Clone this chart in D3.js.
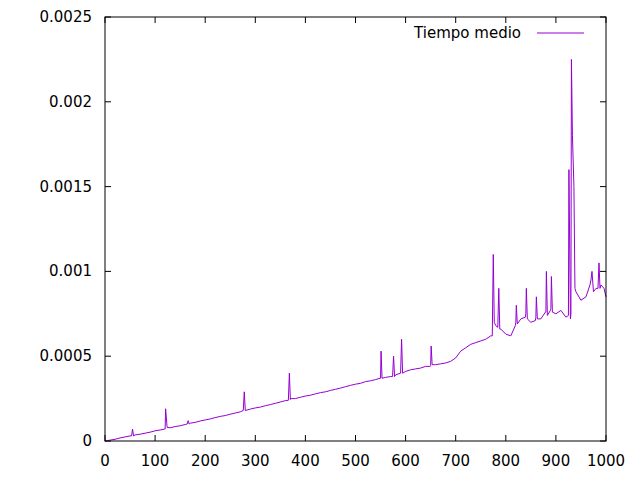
<!DOCTYPE html>
<html><head><meta charset="utf-8">
<script src="https://cdn.jsdelivr.net/npm/d3@7"></script>
<style>body{margin:0;background:#fff}text{font-family:"DejaVu Sans",sans-serif}</style>
</head><body><svg id="c" width="640" height="480"></svg>
<script>
const baseX=d3.range(0,1001,10);
const baseY=[0,0.000005,0.00001,0.000018,0.000024,0.00003,0.000036,0.00004,0.000046,0.000052,0.00006,0.000065,0.00007,0.000078,0.000085,0.00009,0.000097,0.000105,0.00011,0.000118,0.000124,0.00013,0.000138,0.000145,0.00015,0.000158,0.000165,0.000172,0.00018,0.000188,0.000195,0.0002,0.000208,0.000215,0.000222,0.00023,0.000238,0.000245,0.00025,0.000258,0.000265,0.00027,0.000278,0.000285,0.00029,0.000298,0.000305,0.000312,0.00032,0.000328,0.000335,0.00034,0.00035,0.000355,0.000362,0.00037,0.000375,0.00038,0.00039,0.0004,0.00041,0.00042,0.000425,0.00043,0.00044,0.000445,0.00045,0.000455,0.00046,0.00047,0.00049,0.00053,0.00055,0.00057,0.00058,0.00059,0.0006,0.00062,0.00068,0.00066,0.00063,0.00062,0.0007,0.00072,0.00075,0.0007,0.00073,0.00072,0.00076,0.00078,0.00075,0.00077,0.00073,0.00075,0.00088,0.00083,0.00085,0.00095,0.0009,0.00092,0.00085];
const spikeX=[53,55,57,119,121,124,164,166,168,276,278,280,366,368,370,549,551,553,574,576,578,590,592,594,649,651,653,773,775,777,784,786,788,819,821,823,839,841,843,859,861,863,879,881,883,889,891,893,925,926,929,931,933,936,938,968,972,975,984,986,988,996];
const spikeY=[0.00003,0.00007,0.00003,0.00007,0.00019,0.00008,0.0001,0.00012,0.0001,0.00018,0.00029,0.00018,0.00024,0.0004,0.00025,0.00037,0.00053,0.00037,0.00038,0.0005,0.00038,0.0004,0.0006,0.0004,0.00044,0.00056,0.00045,0.00062,0.0011,0.0007,0.00067,0.0009,0.00066,0.00068,0.0008,0.00069,0.00073,0.0009,0.00072,0.00071,0.00085,0.00072,0.00076,0.001,0.00074,0.00077,0.00097,0.00076,0.00074,0.0016,0.00072,0.00225,0.0018,0.0015,0.0009,0.00092,0.001,0.00088,0.0009,0.00105,0.0009,0.0009];
const xTicks=[0,100,200,300,400,500,600,700,800,900,1000];
const yTicks=[0,0.0005,0.001,0.0015,0.002,0.0025];
const yLabels=["0","0.0005","0.001","0.0015","0.002","0.0025"];
const data=baseX.map((x,i)=>[x,baseY[i]]).concat(spikeX.map((x,i)=>[x,spikeY[i]])).sort((a,b)=>a[0]-b[0]);
const svg=d3.select("#c");
const L=105,R=606,T=17,B=441;
const x=d3.scaleLinear().domain([0,1000]).range([L,R]);
const y=d3.scaleLinear().domain([0,0.0025]).range([B,T]);
const g=svg.append("g");
xTicks.forEach(t=>{
 g.append("line").attr("x1",x(t)).attr("x2",x(t)).attr("y1",B).attr("y2",B-6).attr("stroke","#000");
 g.append("line").attr("x1",x(t)).attr("x2",x(t)).attr("y1",T).attr("y2",T+6).attr("stroke","#000");
 g.append("text").attr("x",x(t)).attr("y",B+25).attr("text-anchor","middle").style("font-size","15px").text(t);
});
yTicks.forEach((t,i)=>{
 g.append("line").attr("x1",L).attr("x2",L+6).attr("y1",y(t)).attr("y2",y(t)).attr("stroke","#000");
 g.append("line").attr("x1",R).attr("x2",R-6).attr("y1",y(t)).attr("y2",y(t)).attr("stroke","#000");
 g.append("text").attr("x",L-13).attr("y",y(t)+5).attr("text-anchor","end").style("font-size","15px").text(yLabels[i]);
});
svg.append("path").datum(data).attr("fill","none").attr("stroke","#9400d3").attr("stroke-width",1)
 .attr("d",d3.line().x(d=>x(d[0])).y(d=>y(d[1])));
svg.append("rect").attr("x",L).attr("y",T).attr("width",R-L).attr("height",B-T).attr("fill","none").attr("stroke","#000");
svg.append("text").attr("x",521).attr("y",38).attr("text-anchor","end").style("font-size","15px").text("Tiempo medio");
svg.append("line").attr("x1",537).attr("x2",584).attr("y1",33).attr("y2",33).attr("stroke","#9400d3");
</script></body></html>
